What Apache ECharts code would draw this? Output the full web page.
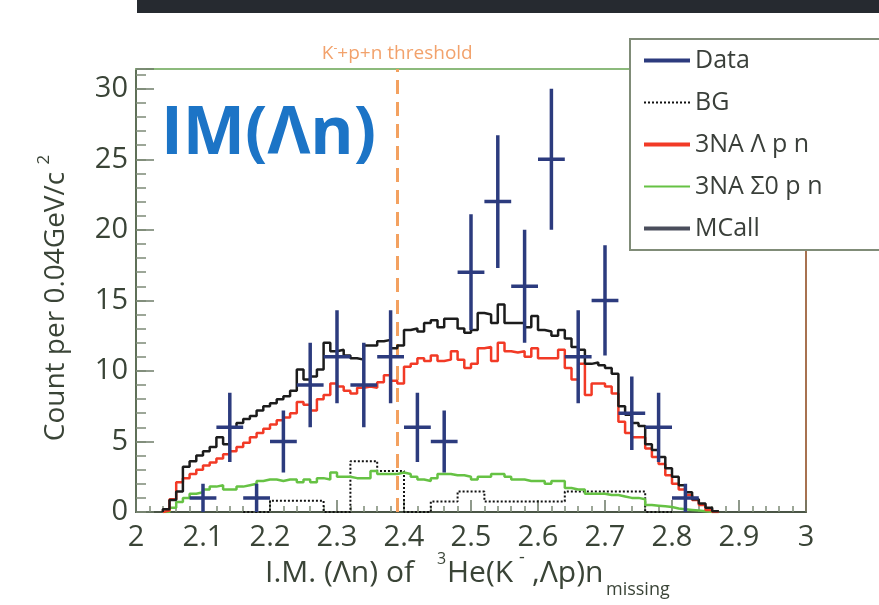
<!DOCTYPE html>
<html>
<head>
<meta charset="utf-8">
<script src="https://cdn.jsdelivr.net/npm/echarts@6/dist/echarts.min.js"></script>
<style>
  html, body { margin: 0; padding: 0; background: #fff; }
  #chart { width: 879px; height: 605px; }
</style>
</head>
<body>
<div id="chart"></div>
<script>
// data points: bin centre, counts, error bar
var dataX = [2.10, 2.14, 2.18, 2.22, 2.26, 2.30, 2.34, 2.38, 2.42, 2.46, 2.50, 2.54, 2.58, 2.62, 2.66, 2.70, 2.74, 2.78, 2.82];
var dataY = [1, 6, 1, 5, 9, 11, 9, 11, 6, 5, 17, 22, 16, 25, 11, 15, 7, 6, 1];
var dataErr = [1, 2.45, 1, 2.2, 3, 3.3, 3, 3.3, 2.45, 2.2, 4.1, 4.7, 4, 5, 3.3, 3.9, 2.6, 2.45, 1];
var dataHalfWidth = 0.02;

// MC histograms, 0.01 wide bins starting at 2.04
var mcStart = 2.04, mcWidth = 0.01;
var mcAll = [0.2, 0.85, 1.45, 3.2, 3.6, 4.0, 4.3, 4.6, 5.3, 4.8,
  6.0, 6.3, 6.6, 6.8, 7.2, 7.5, 7.7, 8.0, 8.2, 8.6,
  10.1, 9.4, 9.6, 10.1, 12.0, 11.4, 11.5, 11.1, 10.9, 10.8,
  11.8, 11.8, 12.1, 12.2, 11.6, 11.8, 12.9, 13.0, 12.8, 13.4,
  13.6, 13.1, 13.7, 13.7, 13.0, 12.7, 12.9, 14.1, 14.0, 13.4,
  14.7, 13.4, 13.4, 13.4, 13.1, 13.9, 12.9, 12.8, 12.5, 12.9,
  12.3, 11.7, 11.5, 10.5, 10.6, 10.4, 10.2, 9.8, 7.5, 6.9,
  6.3, 6.1, 4.8, 4.4, 3.9, 3.1, 2.5, 1.9, 1.4, 0.9,
  0.6, 0.3, 0.05];
var mcLambda = [0.1, 0.9, 2.1, 2.4, 2.7, 3.0, 3.3, 3.5, 3.8, 4.1,
  4.3, 4.6, 4.9, 5.3, 5.6, 5.9, 6.2, 6.5, 6.7, 7.0,
  7.8, 7.6, 7.2, 8.0, 8.3, 9.1, 8.9, 8.6, 8.4, 8.8,
  8.9, 8.8, 9.2, 9.7, 9.3, 9.1, 10.3, 10.5, 10.9, 10.7,
  11.1, 10.7, 10.8, 11.4, 10.8, 10.2, 10.5, 11.6, 11.7, 10.7,
  12.0, 11.4, 11.3, 11.4, 11.0, 11.6, 10.9, 10.9, 10.9, 11.5,
  10.2, 9.4, 10.5, 8.3, 9.1, 9.1, 8.9, 8.4, 6.4, 5.6,
  5.3, 5.3, 4.5, 3.9, 3.4, 2.6, 2.0, 1.6, 1.2, 0.85,
  0.5, 0.15, 0];
var mcSigma = [0, 0.3, 0.7, 1.0, 1.3, 1.4, 1.6, 1.8, 1.9, 1.6,
  1.6, 1.8, 1.9, 2.0, 2.2, 2.3, 2.3, 2.2, 2.3, 2.3,
  2.1, 2.3, 2.1, 2.4, 2.3, 2.8, 2.5, 2.5, 2.4, 2.4,
  2.4, 2.9, 2.7, 2.7, 2.7, 2.8, 2.7, 2.5, 2.3, 2.2,
  2.4, 2.7, 2.7, 2.6, 2.6, 2.5, 2.3, 2.5, 2.5, 2.7,
  2.7, 2.5, 2.3, 2.3, 2.2, 2.2, 2.2, 2.0, 2.2, 2.2,
  1.7, 1.6, 1.6, 1.3, 1.3, 1.3, 1.2, 1.2, 1.1, 1.0,
  1.0, 0.9, 0.5, 0.45, 0.4, 0.35, 0.25, 0.2, 0.15, 0.1,
  0.05, 0, 0];

// background, 0.04 wide bins starting at 2.16
var bgStart = 2.16, bgWidth = 0.04;
var bg = [0, 0.8, 0.8, 0, 3.6, 2.9, 0, 0.75, 1.45, 0.75, 0.75, 0.75, 1.45, 1.45, 1.45, 0];

var threshold = 2.39;

function histo(start, width, vals) {
  var pts = [[start, 0]];
  vals.forEach(function (v, i) {
    pts.push([+(start + i * width).toFixed(3), v]);
  });
  pts.push([+(start + vals.length * width).toFixed(3), 0]);
  return pts;
}

// crosses: horizontal bin width + vertical error, separated by gaps
var crosses = [];
dataX.forEach(function (x, i) {
  crosses.push([x - dataHalfWidth, dataY[i]], [x + dataHalfWidth, dataY[i]], [x, '-']);
  crosses.push([x, dataY[i] - dataErr[i]], [x, dataY[i] + dataErr[i]], [x, '-']);
});

var font = 'Open Sans';
var axisText = '#3a4437';

// small helper for the pieces of the x axis title
function label(text, x, y, size) {
  return {
    type: 'text', x: x, y: y,
    style: { text: text, font: size + 'px "Open Sans"', fill: axisText, verticalAlign: 'middle' }
  };
}

var myChart = echarts.init(document.getElementById('chart'));

var option = {
  animation: false,
  grid: { left: 136, right: 73, top: 69, bottom: 93 },
  legend: {
    orient: 'vertical',
    left: 630,
    top: 39,
    padding: [9, 110, 9, 12],
    itemGap: 17,
    itemWidth: 46,
    itemHeight: 14,
    backgroundColor: '#fff',
    borderColor: '#808c78',
    borderWidth: 2,
    itemStyle: { opacity: 0 },
    textStyle: { fontFamily: font, fontSize: 25, color: '#3a3f3a' },
    data: [
      { name: 'Data', lineStyle: { width: 4 } },
      { name: 'BG' },
      { name: '3NA Λ p n', lineStyle: { width: 4 } },
      { name: '3NA Σ0 p n' },
      { name: 'MCall', lineStyle: { width: 4, color: '#4a4e5c' } }
    ]
  },
  xAxis: [{
    type: 'value', min: 2, max: 3, interval: 0.1, position: 'bottom',
    axisLine: { show: true, onZero: false, lineStyle: { color: '#4a5546', width: 2 } },
    axisTick: { inside: true, length: 12, lineStyle: { color: '#6b7866', width: 1.5 } },
    minorTick: { show: true, splitNumber: 5, length: 6, lineStyle: { color: '#7d8a77', width: 1.5 } },
    splitLine: { show: false },
    axisLabel: { margin: 11, fontFamily: font, fontSize: 29, color: axisText }
  }, {
    type: 'value', min: 2, max: 3, position: 'top',
    axisLine: { show: true, onZero: false, lineStyle: { color: '#8cba7c', width: 2 } },
    axisTick: { show: false }, axisLabel: { show: false }, splitLine: { show: false }
  }],
  yAxis: [{
    type: 'value', min: 0, max: 31.4, interval: 5, position: 'left',
    axisLine: { show: true, onZero: false, lineStyle: { color: '#5f7058', width: 2 } },
    axisTick: { inside: true, length: 18, lineStyle: { color: '#6f7d69', width: 1.5 } },
    splitLine: { show: false },
    axisLabel: {
      margin: 8, fontFamily: font, fontSize: 29, color: axisText,
      formatter: function (v) { return v % 5 === 0 ? v : ''; }
    }
  }, {
    type: 'value', min: 0, max: 31.4, interval: 1, position: 'left',
    axisLine: { show: false },
    axisTick: { inside: true, length: 10, lineStyle: { color: '#7d8a77', width: 1.5 } },
    axisLabel: { show: false }, splitLine: { show: false }
  }, {
    type: 'value', min: 0, max: 31.4, position: 'right',
    axisLine: { show: true, onZero: false, lineStyle: { color: '#a87250', width: 2 } },
    axisTick: { show: false }, axisLabel: { show: false }, splitLine: { show: false }
  }],
  series: [{
    name: 'Data', type: 'line', data: crosses, symbol: 'none', connectNulls: false,
    itemStyle: { color: '#2c3b7e' },
    lineStyle: { color: '#2c3b7e', width: 3.5, cap: 'butt' },
    z: 10
  }, {
    name: 'BG', type: 'line', step: 'end', data: histo(bgStart, bgWidth, bg), symbol: 'none',
    itemStyle: { color: '#111' },
    lineStyle: { color: '#111', width: 2, type: 'dotted' },
    z: 3
  }, {
    name: '3NA Λ p n', type: 'line', step: 'end', data: histo(mcStart, mcWidth, mcLambda), symbol: 'none',
    itemStyle: { color: '#f23a26' },
    lineStyle: { color: '#f23a26', width: 2.5 },
    z: 5
  }, {
    name: '3NA Σ0 p n', type: 'line', step: 'end', data: histo(mcStart, mcWidth, mcSigma), symbol: 'none',
    itemStyle: { color: '#66c244' },
    lineStyle: { color: '#66c244', width: 2.5 },
    z: 4
  }, {
    name: 'MCall', type: 'line', step: 'end', data: histo(mcStart, mcWidth, mcAll), symbol: 'none',
    itemStyle: { color: '#1c1c1c' },
    lineStyle: { color: '#1c1c1c', width: 2.5 },
    z: 6,
    markLine: {
      silent: true,
      symbol: 'none',
      lineStyle: { color: '#f3a160', width: 3, type: [14, 8] },
      label: {
        show: true, position: 'end', distance: 4,
        formatter: '{a|K}{s|-}{a|+p+n threshold}',
        rich: {
          a: { fontFamily: font, fontSize: 19, color: '#f2a26c', lineHeight: 22 },
          s: { fontFamily: font, fontSize: 12, color: '#f2a26c', lineHeight: 22, verticalAlign: 'top' }
        }
      },
      data: [{ xAxis: threshold }]
    }
  }],
  graphic: [
    { type: 'rect', shape: { x: 137, y: 0, width: 742, height: 13 }, style: { fill: '#262a30' } },
    {
      type: 'text', x: 161, y: 135,
      style: { text: 'IM(Λn)', font: 'bold 66px "Open Sans"', fill: '#1c74c6', verticalAlign: 'middle' }
    },
    {
      type: 'text', x: 53, y: 298, rotation: Math.PI / 2,
      style: {
        text: '{a|Count per 0.04GeV/c }{s|2}',
        align: 'center', verticalAlign: 'middle',
        rich: {
          a: { fontFamily: font, fontSize: 28, fill: axisText, lineHeight: 34, verticalAlign: 'bottom' },
          s: { fontFamily: font, fontSize: 17, fill: axisText, lineHeight: 17, verticalAlign: 'top' }
        }
      }
    },
    // x axis title: I.M. (Λn) of ³He(K⁻,Λp)n_missing
    label('I.M. (Λn) of', 265, 573, 30),
    label('3', 437, 559, 16),
    label('He(K', 447, 573, 30),
    label('-', 519, 558, 18),
    label(',Λp)n', 532, 573, 30),
    label('missing', 606, 590, 18)
  ]
};

myChart.setOption(option);
window.addEventListener('resize', function () {
  myChart.resize();
});
</script>
</body>
</html>
